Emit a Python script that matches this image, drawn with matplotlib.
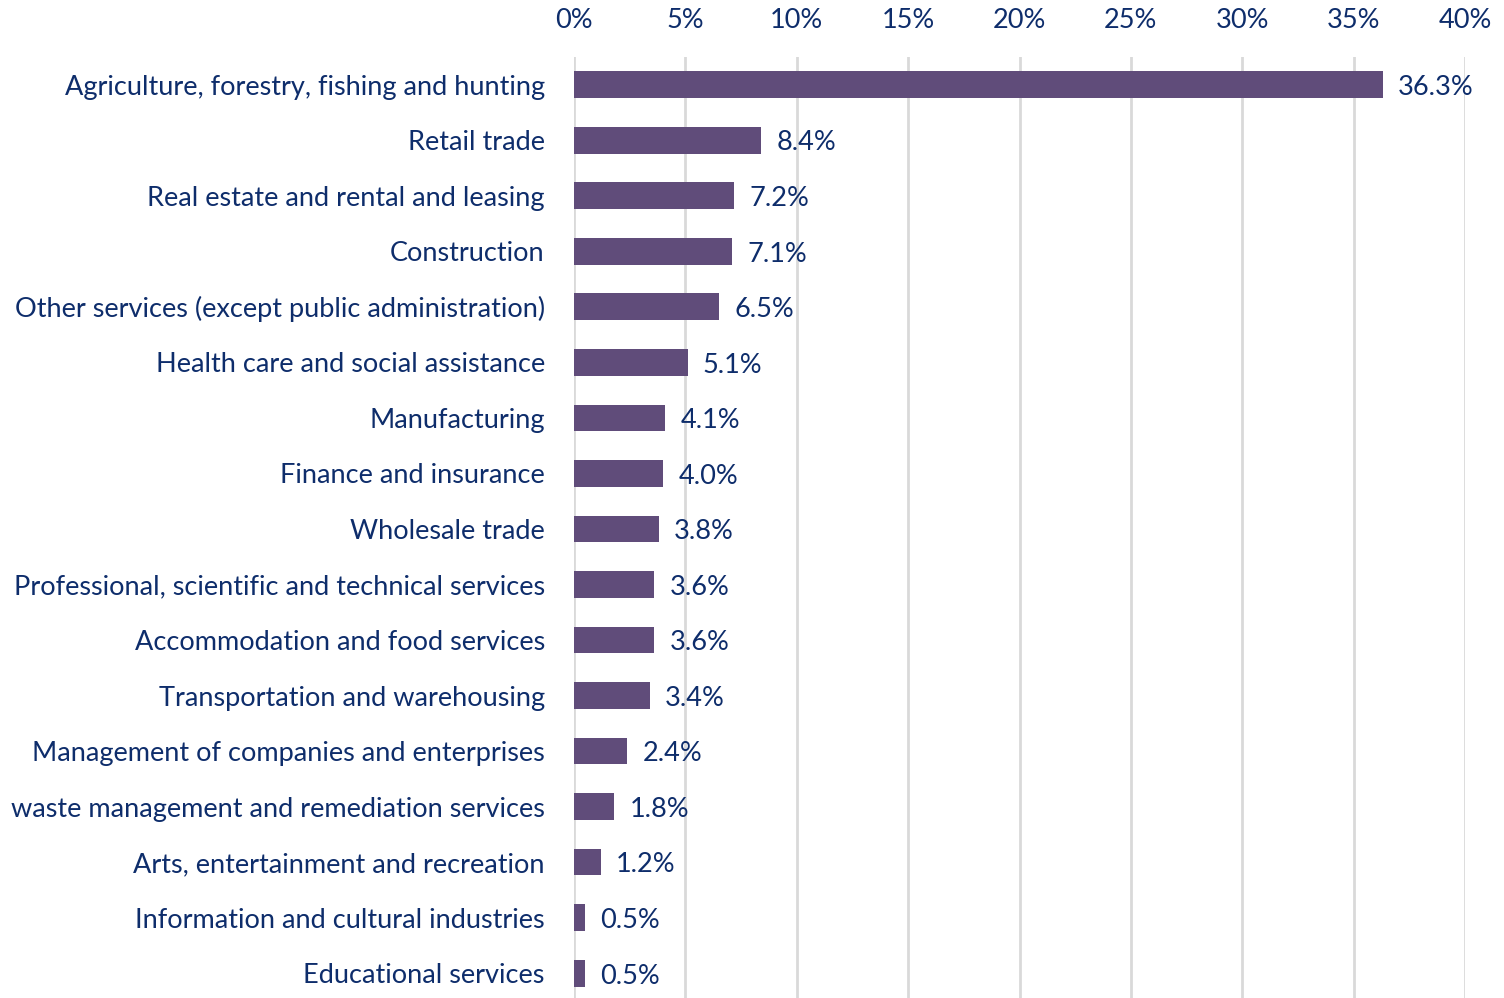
import matplotlib
matplotlib.use("Agg")
import matplotlib.pyplot as plt
from matplotlib.ticker import FuncFormatter, MultipleLocator

categories = [
    "Agriculture, forestry, fishing and hunting",
    "Retail trade",
    "Real estate and rental and leasing",
    "Construction",
    "Other services (except public administration)",
    "Health care and social assistance",
    "Manufacturing",
    "Finance and insurance",
    "Wholesale trade",
    "Professional, scientific and technical services",
    "Accommodation and food services",
    "Transportation and warehousing",
    "Management of companies and enterprises",
    "waste management and remediation services",
    "Arts, entertainment and recreation",
    "Information and cultural industries",
    "Educational services",
]
values = [36.3, 8.4, 7.2, 7.1, 6.5, 5.1, 4.1, 4.0, 3.8, 3.6, 3.6, 3.4, 2.4, 1.8, 1.2, 0.5, 0.5]

bar_color = "#604C7A"
text_color = "#0E2D6B"
grid_color = "#D9D9D9"

plt.rcParams['font.family'] = ['Lato', 'DejaVu Sans']

fig = plt.figure(figsize=(15.04, 9.98), dpi=100)
ax = fig.add_axes([574/1504, -0.003, (1465-574)/1504, 0.946])

y = list(range(len(categories)))
ax.barh(y, values, height=0.48, color=bar_color, zorder=3)
for yi, v in zip(y, values):
    ax.annotate(f"{v:.1f}%", (v, yi), xytext=(11, -2), textcoords="offset points",
                ha="left", va="center", fontsize=19.5, color=text_color, zorder=4)

ax.set_ylim(len(categories) - 0.5, -0.5)
ax.set_xlim(0, 40)
ax.xaxis.set_major_locator(MultipleLocator(5))
ax.xaxis.set_major_formatter(FuncFormatter(lambda x, p: f"{x:.0f}%"))
ax.xaxis.tick_top()
ax.set_yticks(y)
ax.set_yticklabels(categories)
ax.tick_params(axis="both", length=0, labelsize=19.5, labelcolor=text_color)
ax.tick_params(axis="y", pad=21)
ax.tick_params(axis="x", pad=17)
ax.grid(axis="x", color=grid_color, linewidth=2, zorder=0)
for s in ax.spines.values():
    s.set_visible(False)

fig.savefig("out.png", dpi=100)
